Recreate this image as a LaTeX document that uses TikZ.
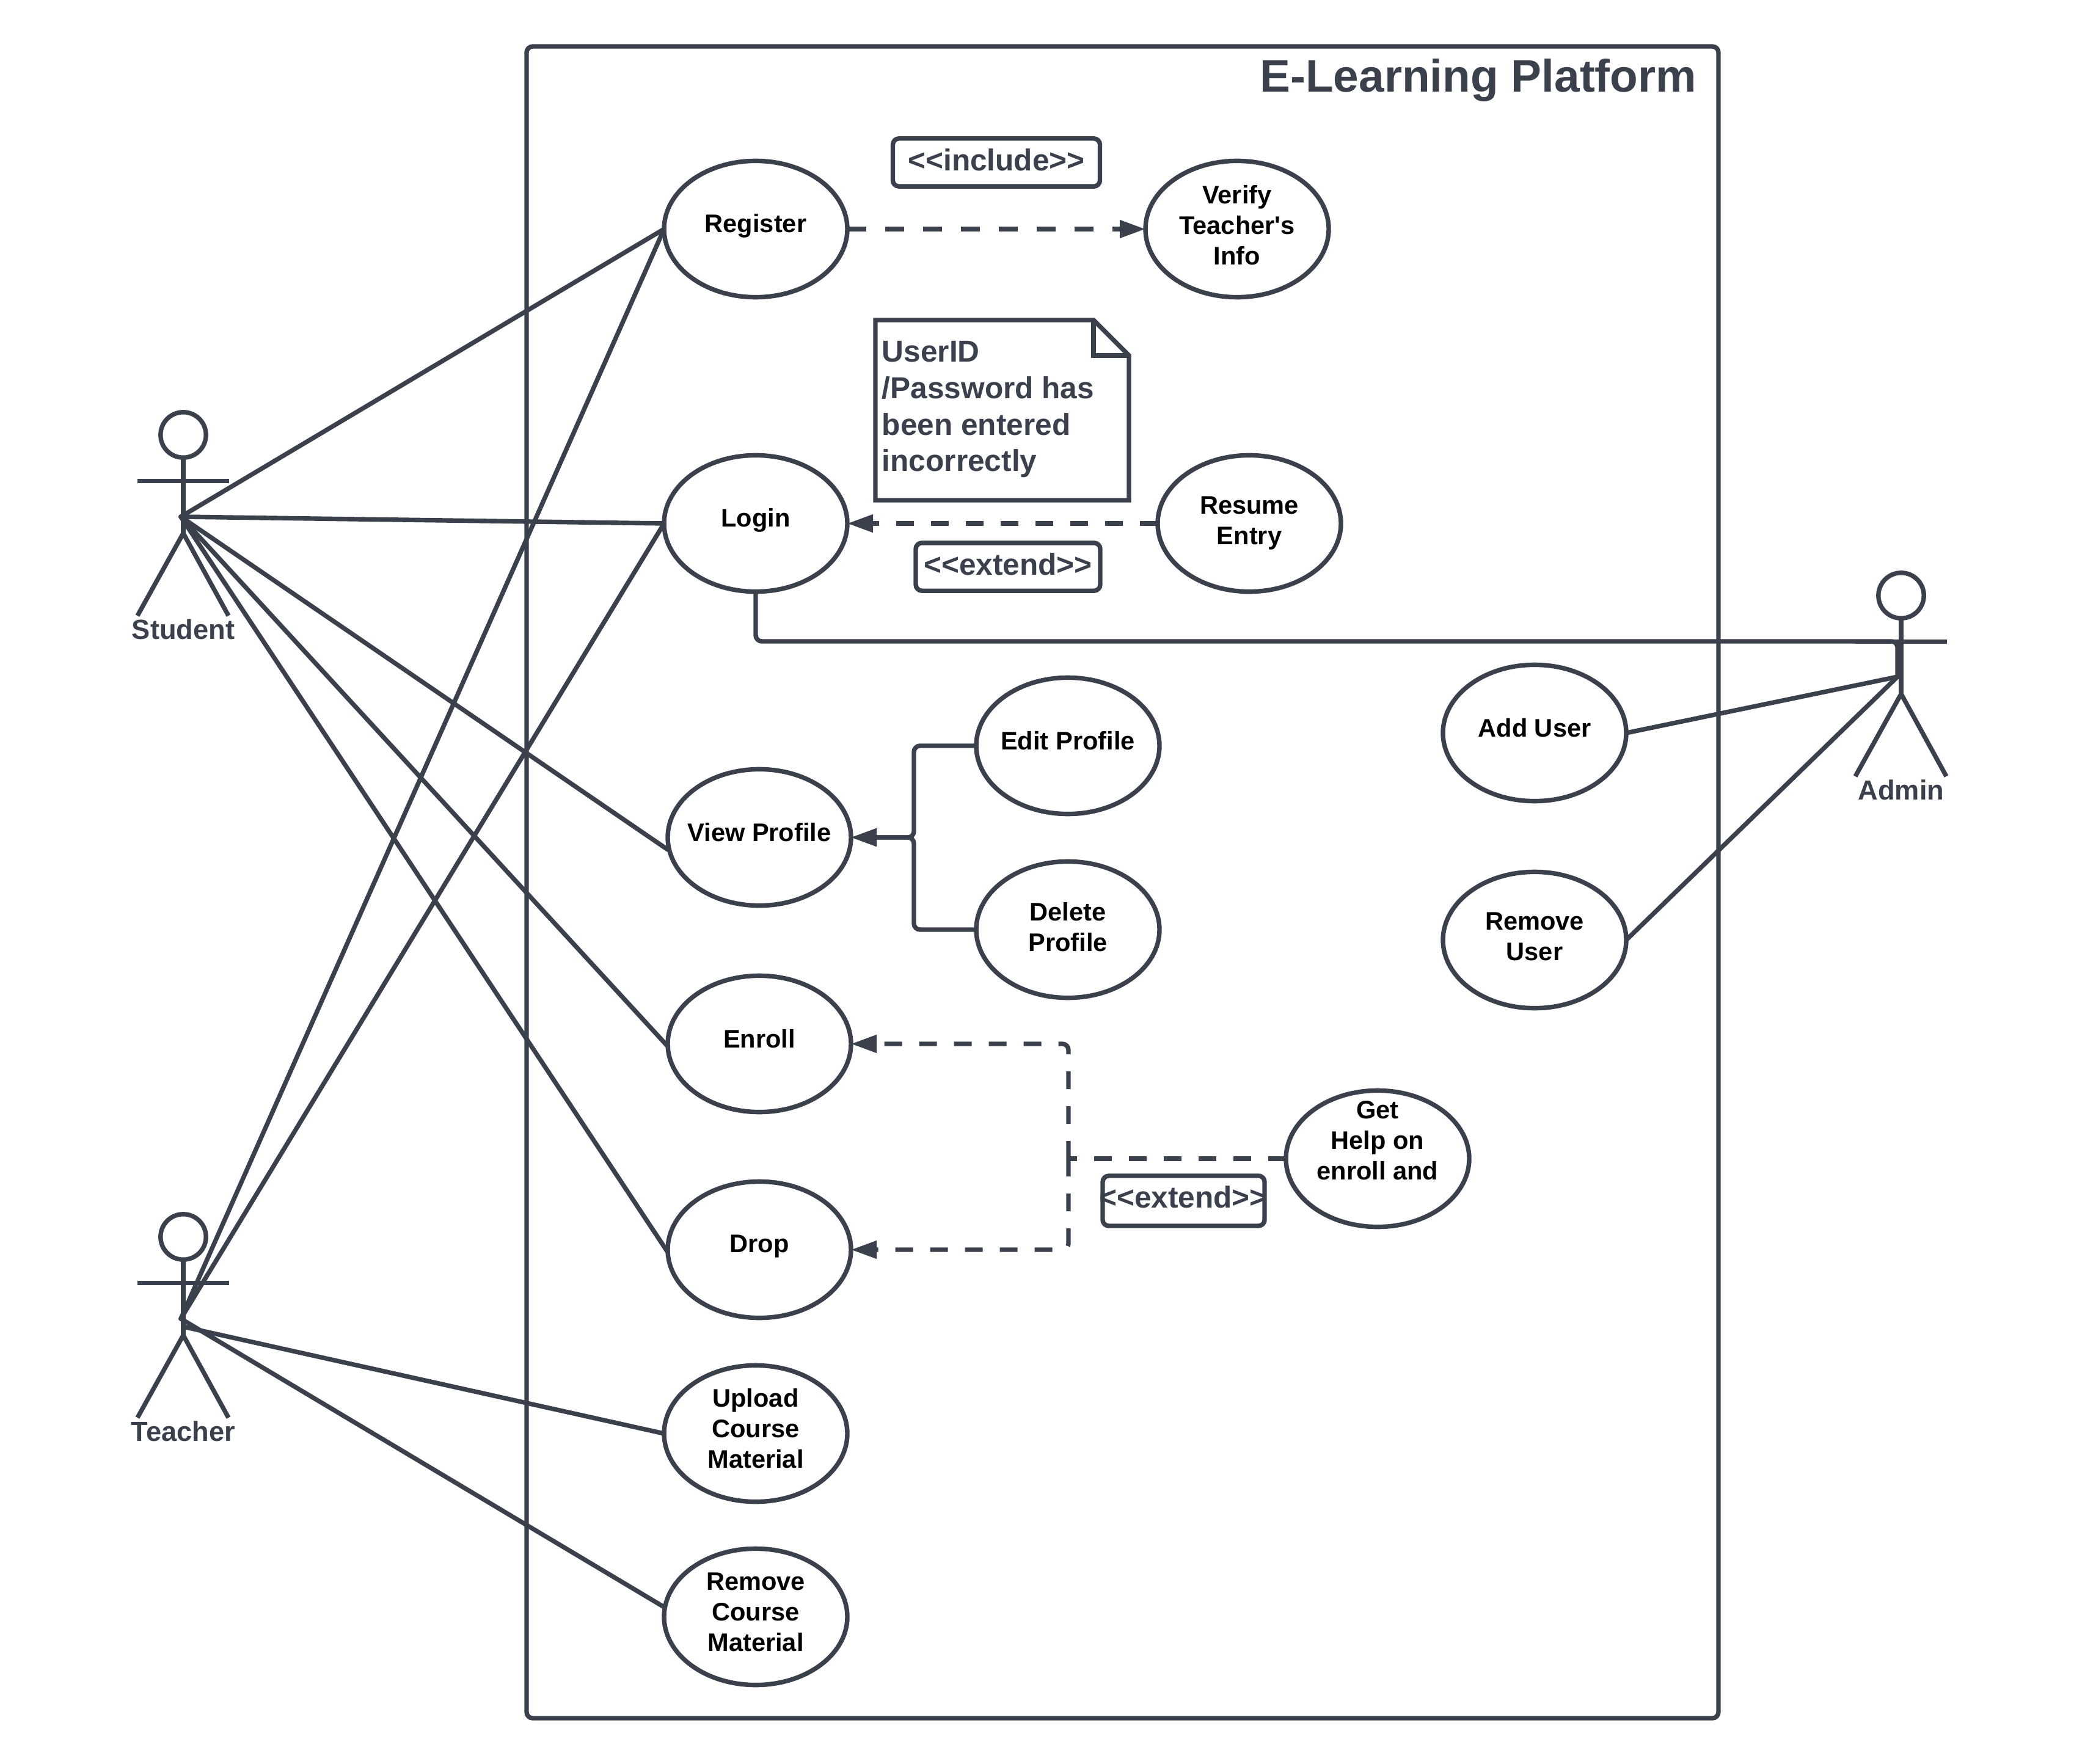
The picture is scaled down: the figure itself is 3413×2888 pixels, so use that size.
\documentclass[tikz,border=0pt]{standalone}
\usepackage{fontspec}
\setmainfont{Liberation Sans}
\newfontfamily\lsans{Liberation Sans}
\usetikzlibrary{shapes.geometric,arrows.meta}
\definecolor{ink}{HTML}{3A414C}
\tikzset{
  x=0.25pt,y=-0.25pt,
  ln/.style={draw=ink,line width=1.85pt},
  uc/.style={ln,ellipse,fill=white,minimum width=75pt,minimum height=55.8pt,inner sep=0pt,outer sep=0pt},
  uct/.style={font=\lsans\bfseries\fontsize{10.4}{12.5}\selectfont,text=black,align=center,inner sep=0pt},
  assoc/.style={ln,line cap=round},
  dashA/.style={ln,dash pattern=on 7.25pt off 7pt},
  tipA/.style={-{Triangle[length=10.5pt,width=7pt]}},
  tag/.style={ln,rounded corners=2.5pt,minimum height=19.6pt,inner sep=0pt,outer sep=0pt,fill=white,text=ink,text depth=2pt,font=\lsans\bfseries\fontsize{12.4}{15}\selectfont},
  actlab/.style={text=ink,font=\bfseries\fontsize{11.3}{13}\selectfont,inner sep=0pt},
  head/.style={ln,circle,minimum size=18.6pt,inner sep=0pt,outer sep=0pt}
}
\newcommand{\ucase}[4]{\node[uc] (#1) at (#2) {};\node[uct] (#1t) at ([yshift=#4]#1.center) {#3};}
\newcommand{\actor}[4]{%
  \node[head] (#1h) at (#2,#3) {};
  \coordinate (#1a) at (#2-75,#3+75.5);
  \coordinate (#1b) at (#2+75,#3+75.5);
  \coordinate (#1c) at (#2-4,#3+134);
  \coordinate (#1u) at (#2,#3+147);
  \coordinate (#1d) at (#2,#3+161);
  \coordinate (#1l) at (#2-75,#3+296);
  \coordinate (#1r) at (#2+74,#3+296);
  \draw[ln] (#1a) -- (#1b);
  \draw[ln] (#1h) -- (#1d);
  \draw[ln] (#1l) -- (#1d) -- (#1r);
  \node[actlab] (#1n) at (#2,#3+318) {#4};
}
\begin{document}
\begin{tikzpicture}
\useasboundingbox[fill=white] (0,0) rectangle (3413,2888);
% frame
\node[ln,rounded corners=2.5pt,minimum width=487.75pt,minimum height=684.25pt,inner sep=0pt,outer sep=0pt,anchor=north west] (frame) at (862,76) {};
\node[anchor=east,text=ink,inner sep=0pt,font=\bfseries\fontsize{18.7}{22}\selectfont] (title) at (2778,131) {E-Learning Platform};
% actors
\actor{st}{300}{712}{Student}
\actor{te}{300}{2025}{Teacher}
\actor{ad}{3112}{975}{Admin}
% use cases
\ucase{reg}{1237,375}{Register}{1.4pt}
\ucase{ver}{2025,375}{Verify\\Teacher's\\Info}{1.6pt}
\ucase{log}{1237,857}{Login}{1.4pt}
\ucase{res}{2045,857}{Resume\\Entry}{0.2pt}
\ucase{vie}{1243,1371}{View Profile}{2.2pt}
\ucase{edi}{1748,1221}{Edit Profile}{2.2pt}
\ucase{del}{1748,1522}{Delete\\Profile}{1.2pt}
\ucase{enr}{1243,1709}{Enroll}{2.2pt}
\ucase{dro}{1243,2046}{Drop}{1.4pt}
\ucase{hel}{2255,1897}{Get\\Help on\\enroll and\\\mbox{}}{1.2pt}
\ucase{upl}{1237,2347}{Upload\\Course\\Material}{2pt}
\ucase{rem}{1237,2647}{Remove\\Course\\Material}{2pt}
\ucase{add}{2512,1200}{Add User}{2.2pt}
\ucase{rus}{2512,1539}{Remove\\User}{1.4pt}
% tags
\node[tag,minimum width=84.75pt] (inc) at (1631,266) {<<include>>};
\node[tag,minimum width=75.5pt] (ex1) at (1650,928) {<<extend>>};
\node[ln,rounded corners=2.5pt,outer sep=0pt,inner sep=0pt,minimum width=66.25pt,minimum height=20.5pt] (ex2b) at (1937.5,1966) {};
\node[text=ink,inner sep=0pt,font=\lsans\bfseries\fontsize{12.4}{15}\selectfont] (ex2) at (1937,1960) {<<extend>>};
% note
\draw[ln,line join=miter,fill=white] (1433,524) -- (1790,524) -- (1848,582) -- (1848,819) -- (1433,819) -- cycle;
\draw[ln,line join=miter] (1790,524) -- (1790,582) -- (1848,582);
\node[anchor=north west,align=left,inner sep=0pt,text=ink,font=\bfseries\fontsize{12.4}{14.9}\selectfont] (note) at (1443,558) {UserID\\/Password has\\been entered\\incorrectly};
% associations
\draw[assoc] (stc) -- (reg.west);
\draw[assoc] (stc) -- (log.west);
\draw[assoc] (stc) -- ([yshift=-5pt]vie.west);
\draw[assoc] (stc) -- ([yshift=-1pt]enr.west);
\draw[assoc] (stc) -- ([yshift=-1pt]dro.west);
\draw[assoc] (tec) -- (reg.west);
\draw[assoc] (tec) -- (log.west);
\draw[assoc] (teu) -- (upl.west);
\draw[assoc] (tec) -- ([yshift=4pt]rem.west);
\coordinate (adh) at (3106,1108);
\coordinate (adm) at (3106,1050);
\draw[assoc] (add.east) -- (adh);
\draw[assoc] (rus.east) -- (adh);
\draw[ln,rounded corners=2.5pt] (log.south) |- (adm) -- (adh);
% include / extend
\draw[dashA,dash pattern=on 7.75pt off 7.75pt,tipA] (reg.east) -- (ver.west);
\draw[dashA,tipA] (res.west) -- (log.east);
\coordinate (jd) at (1749,1897);
\draw[dashA] (hel.west) -- (jd);
\draw[dashA,tipA,rounded corners=2.5pt] (jd) |- (enr.east);
\draw[dashA,tipA,rounded corners=2.5pt] (jd) |- (dro.east);
% profile
\coordinate (jp) at (1496,1371);
\draw[ln,tipA,rounded corners=2.5pt] (edi.west) -| (jp) -- (vie.east);
\draw[ln,tipA,rounded corners=2.5pt] (del.west) -| (jp) -- (vie.east);
\end{tikzpicture}
\end{document}
